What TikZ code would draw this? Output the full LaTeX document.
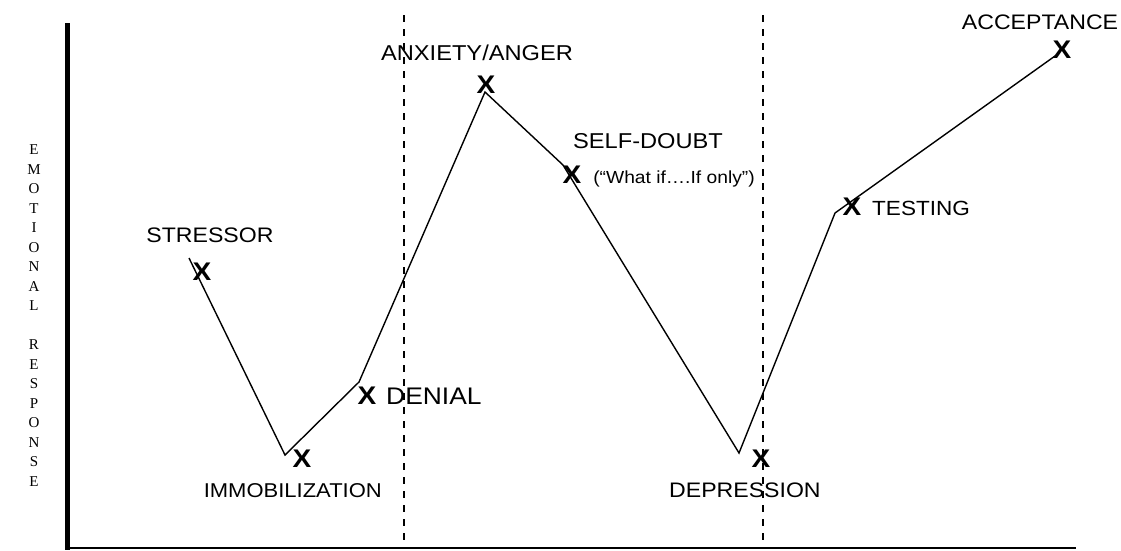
\documentclass[tikz,border=0pt]{standalone}
\usepackage{fontspec}
\setmainfont{Liberation Sans}
\newfontfamily\labfont{Liberation Sans}[FakeStretch=1.1]
\newfontfamily\serfont{Liberation Serif}
\begin{document}
\begin{tikzpicture}[x=1pt,y=-1pt,
  lab/.style={inner sep=0pt, font=\labfont\fontsize{21}{25}\selectfont},
  xmark/.style={inner sep=0pt, anchor=base, font=\labfont\bfseries\fontsize{25.5}{30}\selectfont},
  curve/.style={line width=1.4pt, line join=miter},
  divider/.style={line width=1.6pt, dash pattern=on 7pt off 7pt},
  vaxis/.style={line width=4.5pt},
  haxis/.style={line width=1.8pt}]
\fill[white] (0,0) rectangle (1121,550);
\useasboundingbox (0,0) rectangle (1121,550);

% axes
\coordinate (ytop) at (67.5,23);
\coordinate (origin) at (67.5,550);
\coordinate (xstart) at (65,548);
\coordinate (xend) at (1076,548);
\draw[vaxis] (ytop) -- (origin);
\draw[haxis] (xstart) -- (xend);

% dividers
\coordinate (d1t) at (404,15);
\coordinate (d1b) at (404,548);
\coordinate (d2t) at (763,15);
\coordinate (d2b) at (763,548);
\draw[divider] (d1t) -- (d1b);
\draw[divider] (d2t) -- (d2b);

% vertical axis label
\node[inner sep=0pt, align=center, font=\serfont\fontsize{15}{19.5}\selectfont] (vlabel) at (34,315.5)
  {E\\M\\O\\T\\I\\O\\N\\A\\L\\\mbox{}\\R\\E\\S\\P\\O\\N\\S\\E};

% curve
\coordinate (c1) at (189,258);
\coordinate (c2) at (285,455);
\coordinate (c3) at (359,382);
\coordinate (c4) at (485,92);
\coordinate (c5) at (563,165);
\coordinate (c6) at (739,453);
\coordinate (c7) at (835,213);
\coordinate (c8) at (1055,56);
\draw[curve] (c1) -- (c2) -- (c3) -- (c4) -- (c5) -- (c6) -- (c7) -- (c8);

% X marks
\node[xmark] (x1) at (202,280) {X};
\node[xmark] (x2) at (302,467) {X};
\node[xmark] (x3) at (367,404) {X};
\node[xmark] (x4) at (486,93) {X};
\node[xmark] (x5) at (572,183) {X};
\node[xmark] (x6) at (761,467) {X};
\node[xmark] (x7) at (852,215) {X};
\node[xmark] (x8) at (1062,58) {X};

% labels
\node[lab, anchor=base] (stressor) at (210,242) {STRESSOR};
\node[lab, anchor=base east, font=\labfont\fontsize{20}{24}\selectfont] (immob) at (382,497) {IMMOBILIZATION};
\node[lab, anchor=base west, font=\labfont\fontsize{24}{28}\selectfont] (denial) at (386,404) {DENIAL};
\node[lab, anchor=base, font=\labfont\fontsize{21.5}{25}\selectfont] (anxiety) at (477,60) {ANXIETY/ANGER};
\node[lab, anchor=base, font=\labfont\fontsize{21.5}{25}\selectfont] (selfdoubt) at (648,148) {SELF-DOUBT};
\node[lab, anchor=base, font=\labfont\fontsize{17.5}{21}\selectfont] (whatif) at (674,183) {(“What if….If only”)};
\node[lab, anchor=base west] (depression) at (669,497) {DEPRESSION};
\node[lab, anchor=base west, font=\labfont\fontsize{20.5}{24}\selectfont] (testing) at (872,215) {TESTING};
\node[lab, anchor=base] (acceptance) at (1040,29) {ACCEPTANCE};
\end{tikzpicture}
\end{document}
